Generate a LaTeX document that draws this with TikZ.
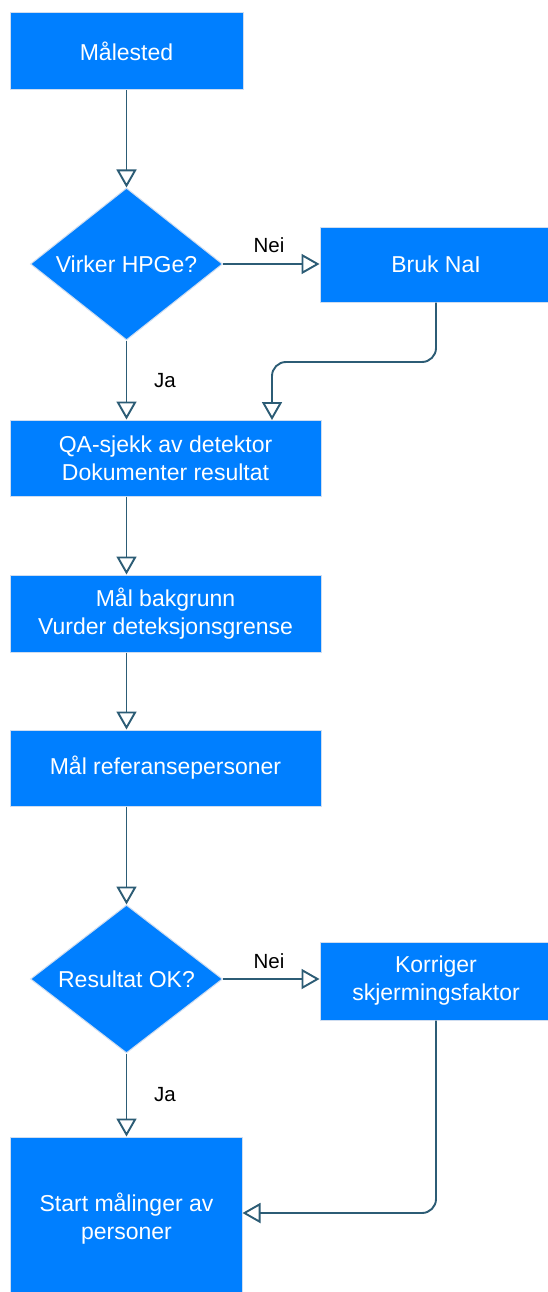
\documentclass[tikz,border=0pt]{standalone}
\usepackage{fontspec}
\setmainfont{Liberation Sans}
\usetikzlibrary{arrows.meta,shapes.geometric}
\definecolor{boxblue}{HTML}{007FFF}
\definecolor{boxline}{HTML}{CFDDF0}
\definecolor{conncol}{HTML}{2C5C75}
\tikzset{
  stepbox/.style={draw=boxline, line width=1pt, fill=boxblue, text=white, rectangle, inner sep=0pt,
    align=center, font=\fontsize{23}{28}\selectfont},
  decision/.style={draw=boxline, line width=1pt, fill=boxblue, diamond, inner sep=0pt,
    minimum width=192pt, minimum height=#1},
  dtext/.style={text=white, font=\fontsize{23}{28}\selectfont},
  conn/.style={draw=conncol, line width=1.9pt, -{Triangle[open, length=18pt, width=20pt]}},
  lbl/.style={text=black, font=\fontsize{20.5}{24}\selectfont, inner sep=0pt}
}
\begin{document}
\begin{tikzpicture}[x=1pt, y=-1pt]
\useasboundingbox (0,0) rectangle (548,1292);
\fill[white] (0,0) rectangle (548,1292);

\node[stepbox, minimum width=233pt, minimum height=77pt] (m) at (126.5,51.5) {Målested};
\node[decision=152pt] (d1) at (126.5,264) {};
\node[dtext] (d1t) at (126.5,264) {Virker HPGe?};
\node[stepbox, minimum width=232pt, minimum height=75pt] (b) at (436,264.5) {Bruk NaI};
\node[stepbox, minimum width=311pt, minimum height=76pt] (qa) at (165.5,458) {QA-sjekk av detektor\\Dokumenter resultat};
\node[stepbox, minimum width=311pt, minimum height=77pt] (mb) at (165.5,613.5) {Mål bakgrunn\\Vurder deteksjonsgrense};
\node[stepbox, minimum width=311pt, minimum height=76pt] (mr) at (165.5,768) {Mål referansepersoner};
\node[decision=148pt] (d2) at (126.5,979) {};
\node[dtext] (d2t) at (126.5,979) {Resultat OK?};
\node[stepbox, minimum width=232pt, minimum height=78pt] (k) at (436,981) {Korriger\\skjermingsfaktor};
\node[stepbox, minimum width=232pt, minimum height=164pt] (s) at (126.5,1219) {Start målinger av\\personer};

\coordinate (qin) at (272,420);
\coordinate (sin) at (242.5,1213);

\draw[conn] (m.south) -- (d1.north);
\draw[conn] (d1.east) -- (d1.east -| b.west);
\draw[conn] (d1.south) -- (d1.south |- qa.north);
\draw[conn, rounded corners=14pt] (b.south) |- (272,362) -- (qin);
\draw[conn] (d1.south |- qa.south) -- (d1.south |- mb.north);
\draw[conn] (d1.south |- mb.south) -- (d1.south |- mr.north);
\draw[conn] (d1.south |- mr.south) -- (d2.north);
\draw[conn] (d2.east) -- (d2.east -| k.west);
\draw[conn] (d2.south) -- (s.north);
\draw[conn, rounded corners=14pt] (k.south) |- (sin);

\node[lbl] (nei1) at (269,245) {Nei};
\node[lbl] (ja1) at (165,381) {Ja};
\node[lbl] (nei2) at (269,961) {Nei};
\node[lbl] (ja2) at (165,1095) {Ja};
\end{tikzpicture}
\end{document}
